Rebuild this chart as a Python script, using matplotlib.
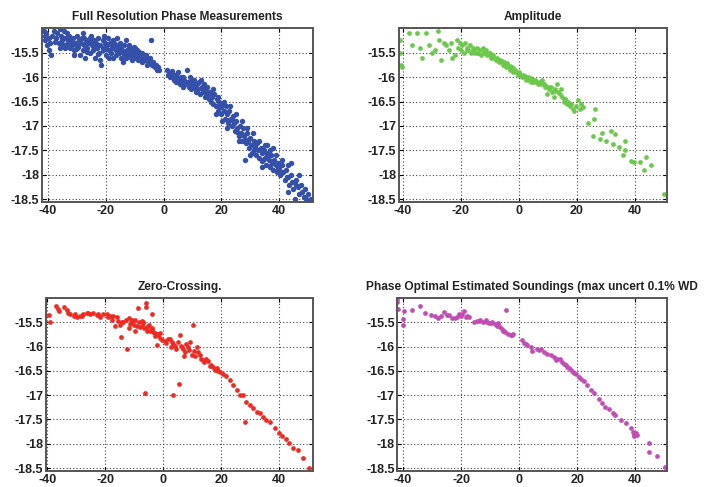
import matplotlib
matplotlib.use('Agg')
import matplotlib.pyplot as plt

plt.rcParams['font.family'] = ['Liberation Sans', 'DejaVu Sans']
plt.rcParams['font.weight'] = 'bold'
plt.rcParams['axes.unicode_minus'] = False

titles = ['Full Resolution Phase Measurements', 'Amplitude',
          'Zero-Crossing.', 'Phase Optimal Estimated Soundings (max uncert 0.1% WD']
colors = ['#3450a8', '#6cc84a', '#ee2a22', '#c04cb4']
marker_sizes = [3.9, 3.4, 3.4, 3.4]
xlims = [(-42.1, 51.7), (-41.4, 51.0), (-40.5, 51.7), (-41.9, 50.9)]
xticks = [-40, -20, 0, 20, 40]
yticks = [-15.5, -16, -16.5, -17, -17.5, -18, -18.5]
ytick_labels = ['-15.5', '-16', '-16.5', '-17', '-17.5', '-18', '-18.5']

# full resolution phase (blue)
phase_x = [-41.5, -41.2, -41, -40.6, -40.2, -39.8, -39.5, -39.2, -38.5, -37.8, -37.2, -36.8, -36.3, -35.9,
           -35.5, -35.1, -34.6, -34.2, -33.8, -33.5, -33.1, -32.7, -32.3, -32, -31.6, -31.2, -30.9, -30.5,
           -30.1, -29.8, -29.4, -29, -28.6, -28.3, -27.9, -27.5, -27.1, -26.8, -26.4, -26, -25.6, -25.3,
           -24.9, -24.5, -24.1, -23.8, -23.4, -23, -22.6, -22.3, -21.9, -21.5, -21.1, -20.8, -20.4, -20,
           -19.6, -19.3, -18.9, -18.5, -18.1, -17.8, -17.4, -17, -16.6, -16.3, -15.9, -15.5, -15.1, -14.8,
           -14.4, -14, -13.6, -13.3, -12.9, -12.5, -12.1, -11.8, -11.4, -11, -10.6, -10.3, -9.9, -9.5,
           -9.1, -8.8, -8.4, -8, -7.6, -7.3, -6.9, -6.5, -6.1, -5.8, -5.4, -5, -4.6, -4.2, -3.9, -3.5,
           -3.1, -2.7, -2.3, -1.9, -1.5,
           -34, -31, -28, -25, -22, -19, -16, -13, -30, -27, -24, -21, -18, -15, -12, -10, -20.5, -17.5,
           -39, -36, -33, -29.5, -26.5, -23.5, -19.8, -16.8, -13.8, -11.5, -8.6, -6.3,
           1.2, 1.6, 2, 2.4, 2.8, 3.2, 3.6, 4, 4.4, 4.8, 5.2, 5.6, 6, 6.4, 6.8, 7.2, 7.6, 8, 8.4, 8.8,
           9.2, 9.6, 10, 10.4, 10.8, 11.2, 11.6, 12, 12.4, 12.8, 13.2, 13.6, 14, 14.4, 14.8, 15.2, 15.6,
           16, 16.4, 16.8, 17.2, 17.6, 18, 18.4, 18.8, 19.2, 19.6, 20, 20.3, 20.4, 20.8, 21.2, 21.6, 22,
           22.4, 22.8, 23.2, 23.6, 24, 24.4, 24.8, 25.2, 25.6, 26, 26.4, 26.8, 27.2, 27.6, 28, 28.3, 28.4,
           28.8, 29.2, 29.6, 30, 30.4, 30.8, 31.2, 31.6, 32, 32.4, 32.8, 33.2, 33.6, 34, 34.4, 34.8, 35.2,
           35.6, 36, 36.4, 36.8, 37.2, 37.6, 38, 38.4, 38.8, 39.2, 39.6, 40, 40.5, 41, 41.5, 42, 42.5, 43,
           43.5, 44, 44.5, 45, 45.5, 46, 46.5, 47, 47.5, 48, 48.5, 49, 49.5, 50, 50.5, 51,
           5, 9, 13, 15, 17, 19, 21, 23, 25, 27, 29, 31, 33, 35, 37, 39, 41, 43, 38, 36, 18, 22, 26, 30,
           34, 44, 47, 43, 11, 14, 16.2, 19.5, 23.8, 27.8, 31.8, 35.8, 39.8,
           -37.5, -35.2, -32.8, -30.3, -27.7, -25.2, -22.8, -20.2, -17.7, -15.3, -12.7, -10.2, -7.8,
           -5.2, -3.3, 3, 6.6, 10.2, 13.4, 16.6, 19.8, 22.6, 25.4, 28.6, 31.4, 34.2, 37, 39.9, 42.8, 45.8]
phase_y = [-15.05, -15.15, -15.25, -15.1, -15.35, -15.2, -15.45, -15.3, -15.15, -15.05, -15.2, -15.1,
           -15.3, -15.02, -15.15, -15.25, -15.05, -15.2, -15.35, -15.1, -15.3, -15.15, -15.4, -15.25,
           -15.35, -15.2, -15.45, -15.3, -15.15, -15.4, -15.25, -15.55, -15.3, -15.2, -15.45, -15.35,
           -15.6, -15.25, -15.4, -15.3, -15.5, -15.2, -15.35, -15.45, -15.25, -15.6, -15.3, -15.4, -15.2,
           -15.5, -15.35, -15.75, -15.25, -15.45, -15.3, -15.55, -15.35, -15.2, -15.45, -15.3, -15.5,
           -15.4, -15.6, -15.3, -15.45, -15.55, -15.35, -15.5, -15.4, -15.6, -15.45, -15.7, -15.35,
           -15.5, -15.6, -15.45, -15.55, -15.35, -15.5, -15.65, -15.45, -15.55, -15.5, -15.6, -15.45,
           -15.65, -15.55, -15.6, -15.5, -15.7, -15.6, -15.65, -15.55, -15.75, -15.65, -15.7, -15.6,
           -15.25, -15.75, -15.7, -15.8, -15.75, -15.85, -15.8, -15.85,
           -15.4, -15.55, -15.1, -15.15, -15.65, -15.6, -15.2, -15.25, -15.35, -15.3, -15.4, -15.4,
           -15.35, -15.3, -15.4, -15.4, -15.15, -15.25,
           -15.55, -15.4, -15.28, -15.38, -15.48, -15.38, -15.42, -15.35, -15.52, -15.58, -15.48, -15.62,
           -15.85, -15.95, -15.9, -16.0, -15.88, -15.98, -16.05, -15.95, -16.1, -16.0, -16.05, -16.15,
           -16.0, -16.1, -16.2, -16.05, -16.15, -15.85, -16.1, -16.2, -16.1, -16.25, -16.15, -16.05,
           -16.2, -16.3, -16.15, -16.25, -16.1, -16.35, -16.2, -16.3, -16.15, -16.4, -16.25, -16.35,
           -16.45, -16.3, -16.5, -16.4, -16.55, -16.35, -16.6, -16.45, -16.7, -16.5, -16.6, -16.75,
           -16.9, -16.55, -16.7, -16.85, -16.6, -16.75, -16.95, -16.7, -16.85, -17.0, -16.8, -16.95,
           -17.1, -16.9, -17.05, -17.2, -17.0, -17.15, -17.3, -17.05, -17.2, -17.7, -17.35, -17.15,
           -17.3, -17.45, -17.25, -17.4, -17.55, -17.3, -17.45, -17.6, -17.35, -17.5, -17.65, -17.45,
           -17.55, -17.7, -17.5, -17.65, -17.8, -17.55, -17.7, -17.85, -17.6, -17.75, -17.9, -17.7,
           -17.8, -17.95, -17.75, -17.85, -18.0, -17.8, -17.95, -18.1, -17.9, -18.05, -18.2, -18.0,
           -18.15, -18.3, -18.5, -18.1, -18.25, -18.4, -18.2, -18.35, -18.45, -18.3, -18.5, -18.4,
           -18.55, -18.5,
           -15.9, -16.0, -16.05, -16.2, -16.25, -16.4, -16.5, -16.6, -16.75, -16.9, -17.05, -17.15,
           -17.3, -17.4, -17.5, -17.6, -17.7, -17.8, -17.45, -17.4, -16.75, -17.05, -17.3, -17.6,
           -17.85, -17.75, -18.0, -18.35, -16.22, -16.28, -16.42, -16.62, -16.88, -17.18, -17.42,
           -17.62, -17.88,
           -15.28, -15.32, -15.22, -15.42, -15.2, -15.28, -15.52, -15.38, -15.28, -15.42, -15.52,
           -15.38, -15.52, -15.62, -15.78, -15.92, -16.0, -16.08, -16.22, -16.4, -16.62, -16.88,
           -17.12, -17.28, -17.5, -17.72, -17.82, -17.9, -18.05, -18.2]

# amplitude (green)
amp_x = [-41, -41, -40.5, -40.3, -38, -37, -35, -34, -33.5, -32, -31, -30, -29, -28, -27.5, -27, -26,
         -25, -24, -23.5, -23, -22, -21.5, -21, -20.5, -20, -19.5, -19, -18.5, -18, -17.5, -17, -16.5,
         -16, -15.5, -15, -14.5, -14, -13.5, -13, -12.5, -12, -11.5, -11, -10.5, -10, -9.5, -9, -8.5,
         -8, -7.5, -7, -6.5, -6, -5.5, -5, -4.5, -4, -3.5, -3, -2.5, -2, -1.5, -1, -0.5, 0, 0.5, 1, 1.5,
         2, 2.5, 3, 3.5, 4, 4.5, 5, 5.5, 6, 6.5, 7, 7.5, 8, 8.5, 9, 9.6, 10, 10.5, 11, 11.5, 12, 12.5,
         13, 13.5, 14, 14.5, 15, 15.5, 16, 16.5, 17, 17.5, 18, 18.5, 19, 19.5, 20.3, 21, 21.5, 22,
         23.8, 25.5, 26, 26.2, 28, 28.6, 30, 31.7, 32.4, 33, 34.5, 35.8, 36.6, 36.6, 38.6, 39.6, 41.7,
         43.1, 43.8, 45.5, 50,
         -18, -16, -14, -12, -10, -8, -6, -4, -2, 0, 2, 4, 6, 8, -11, -7, -3, 1, 5, 9, 12, 16]
amp_y = [-15.25, -15.5, -15.75, -15.8, -15.1, -15.35, -15.1, -15.4, -15.6, -15.1, -15.35, -15.5,
         -15.45, -15.05, -15.25, -15.65, -15.3, -15.35, -15.45, -15.3, -15.6, -15.55, -15.25, -15.4,
         -15.3, -15.45, -15.35, -15.5, -15.3, -15.4, -15.45, -15.35, -15.5, -15.4, -15.45, -15.5, -15.4,
         -15.5, -15.45, -15.55, -15.4, -15.5, -15.45, -15.55, -15.5, -15.5, -15.6, -15.55, -15.6,
         -15.65, -15.6, -15.7, -15.65, -15.7, -15.75, -15.7, -15.8, -15.75, -15.8, -15.85, -15.8,
         -15.9, -15.85, -15.9, -15.95, -15.9, -15.95, -16.0, -15.95, -16.0, -16.05, -16.0, -16.05,
         -16.1, -16.05, -16.1, -16.05, -16.1, -16.15, -16.1, -16.15, -16.05, -16.15, -16.2, -16.34,
         -16.2, -16.25, -16.2, -16.3, -16.4, -16.25, -16.15, -16.3, -16.35, -16.25, -16.4, -16.5,
         -16.45, -16.55, -16.5, -16.6, -16.55, -16.65, -16.7, -16.6, -16.46, -16.66, -16.55, -16.62,
         -16.93, -17.2, -16.85, -16.66, -17.27, -17.15, -17.3, -17.1, -17.38, -17.17, -17.44, -17.6,
         -17.5, -17.3, -17.72, -17.73, -17.74, -17.9, -17.64, -17.8, -18.4,
         -15.45, -15.45, -15.5, -15.48, -15.55, -15.62, -15.68, -15.72, -15.82, -15.92, -15.98,
         -16.02, -16.08, -16.12, -15.52, -15.66, -15.78, -15.98, -16.06, -16.16, -16.28, -16.44]

# zero-crossing (red)
zc_x = [-40.8, -39.3, -39.1, -37, -35.9, -34.3, -33.3, -32.2, -31, -29.9, -28.7, -27.6, -26.4, -25.3,
        -24.1, -23, -21.8, -20.7, -19.5, -18.4, -17.2, -16.7, -15.5, -14.7, -12.6, -13.8, -11.5, -10.3,
        -9.2, -8.9, -8, -6.9, -6.1, -6, -6.3, -5.7, -5.2, -4, -4, -3.4, -2.3, -1.7, -0.6, 1.7, 2.9,
        3.4, 4, 5.4, 5.7, 6.3, 7.5, 8, 9.4, 9.8, 10.1, 11.5, 12.6, 13.8, 14.9, 16.1, 17.2, 18.4, 19.5,
        20.7, 21.8, 23, 24.1, 25.3, 26.4, 27.6, 28.2, 28.7, 29.9, 31, 32.2, 33.3, 34.5, 35.6, 36.8,
        38.5, 40, 41.1, 42.3, 43.4, 44.8, 46.6, 48.3, 50.3,
        -19, -17.8, -16, -14.2, -13, -12, -11, -10, -9.6, -8.5, -7.5, -7, -6.5, -5.5, -4.8, -4.5,
        -3.8, -3, -2.8, -2, -1.2, -1, 0.5, 1, 2.2, 2.5, 3.5, 4.5, 5, 6, 6.8, 7, 8.5, 9, 10.5, 11, 12,
        13, 14, 15.5, 16.5, 18, 19, -22.5, -26, -28, -30.5, -33, -36.5, -15, -11.8, -10.8, -9.8, -7.3]
zc_y = [-15.35, -15.35, -15.49, -15.17, -15.26, -15.19, -15.24, -15.33, -15.36, -15.4, -15.36,
        -15.33, -15.31, -15.33, -15.3, -15.35, -15.4, -15.33, -15.33, -15.36, -15.38, -15.57,
        -15.47, -15.81, -16.05, -15.5, -15.53, -15.47, -15.57, -15.21, -15.6, -15.5, -15.11, -15.18,
        -16.95, -15.67, -15.57, -15.33, -15.64, -15.7, -15.96, -15.77, -15.87, -15.84, -15.91, -17.0,
        -15.98, -16.76, -15.77, -16.01, -16.11, -15.94, -15.9, -16.18, -15.55, -16.01, -16.18, -16.28,
        -16.25, -16.39, -16.42, -16.45, -16.52, -16.56, -16.6, -16.69, -16.8, -16.9, -16.99, -17.0,
        -17.55, -17.14, -17.2, -17.27, -17.34, -17.37, -17.44, -17.51, -17.55, -17.68, -17.78, -17.85,
        -17.9, -17.99, -18.08, -18.12, -18.3, -18.5,
        -15.4, -15.45, -15.4, -15.5, -15.45, -15.42, -15.5, -15.55, -15.45, -15.5, -15.58, -15.52,
        -15.62, -15.6, -15.55, -15.68, -15.62, -15.72, -15.78, -15.75, -15.82, -15.72, -15.88,
        -15.92, -15.85, -16.0, -15.95, -16.05, -15.9, -15.98, -16.05, -16.2, -16.0, -16.08, -16.1,
        -16.2, -16.12, -16.25, -16.32, -16.3, -16.38, -16.48, -16.5, -15.32, -15.3, -15.38, -15.32,
        -15.3, -15.22, -15.55, -15.62, -15.45, -15.68, -15.48]

# phase optimal estimated soundings (magenta)
opt_x = [-42.2, -42.2, -41.6, -39.7, -39.9, -39.9, -36.8, -34.1, -32.4, -30.5, -29, -27.8, -27, -25.9,
         -24.9, -24.1, -23, -22.1, -21.3, -20.7, -20.1, -19.5, -19, -18.4, -17.8, -17.2, -15.5, -14.4,
         -13.4, -12.6, -11.5, -10.3, -9.2, -8.3, -7.7, -7.1, -6.6, -5.7, -4.8, -4.6, -3.8, -2.9, -2,
         0.9, 1.7, 2.6, 4, 4.6, 6.3, 7.5, 8.4, 9.5, 10.9, 12.1, 13.2, 14, 14.9, 15.5, 16.1, 17.2, 17.8,
         18.4, 19.5, 20.5, 21.3, 22.4, 23.3, 24.7, 25.9, 27.4, 28.7, 29.7, 30.8, 32.2, 33.1, 35.1,
         36.8, 38.5, 39.1, 39.4, 39.7, 40.2, 40.5, 44.8, 44.6, 47.4, 50.3, 50.6,
         -13.9, -11, -9.8, -7.4, -6, -5.2, -2.5, 2.2, 7, 12.6, 16.6, 18.9]
opt_y = [-15.02, -15.09, -15.23, -15.26, -15.43, -15.55, -15.25, -15.17, -15.31, -15.35, -15.38,
         -15.41, -15.36, -15.29, -15.34, -15.35, -15.41, -15.42, -15.4, -15.33, -15.36, -15.32,
         -15.26, -15.4, -15.38, -15.4, -15.49, -15.47, -15.45, -15.49, -15.45, -15.52, -15.5, -15.53,
         -15.57, -15.51, -15.6, -15.67, -15.7, -15.24, -15.74, -15.77, -15.75, -15.86, -15.92,
         -15.96, -16.0, -16.1, -16.05, -16.05, -16.11, -16.15, -16.18, -16.22, -16.26, -16.25, -16.32,
         -16.35, -16.37, -16.45, -16.49, -16.52, -16.56, -16.62, -16.66, -16.71, -16.8, -16.9, -16.95,
         -17.07, -17.17, -17.24, -17.29, -17.37, -17.41, -17.51, -17.58, -17.68, -17.75, -17.82,
         -17.85, -17.78, -17.82, -17.99, -18.16, -18.26, -18.47, -18.57,
         -15.47, -15.5, -15.52, -15.55, -15.63, -15.68, -15.76, -15.94, -16.07, -16.27, -16.42, -16.55]

series = [(phase_x, phase_y), (amp_x, amp_y), (zc_x, zc_y), (opt_x, opt_y)]

fig = plt.figure(figsize=(7.11, 4.87), dpi=100)
positions = [[0.059, 0.585, 0.381, 0.357], [0.561, 0.585, 0.377, 0.357],
             [0.0647, 0.033, 0.3755, 0.355], [0.559, 0.033, 0.379, 0.355]]

for pos, title, color, ms, xl, (xs, ys) in zip(positions, titles, colors, marker_sizes, xlims, series):
    ax = fig.add_axes(pos)
    ax.plot(xs, ys, 'o', color=color, ms=ms, mew=0, clip_on=True)
    ax.set_xlim(*xl)
    ax.set_ylim(-18.56, -15.0)
    ax.set_xticks(xticks)
    ax.set_yticks(yticks)
    ax.set_yticklabels(ytick_labels)
    ax.grid(True, color='#444444', linestyle=(0, (1, 2)), linewidth=0.8)
    ax.tick_params(direction='in', labelsize=9, length=3, width=0.8, pad=2,
                   top=True, right=True, labelcolor='#222222')
    for sp in ax.spines.values():
        sp.set_color('#555555')
        sp.set_linewidth(1.4)
    ax.set_title(title, fontsize=8.6, fontweight='bold', pad=6, color='#222222')

fig.savefig('out.png', dpi=100)
